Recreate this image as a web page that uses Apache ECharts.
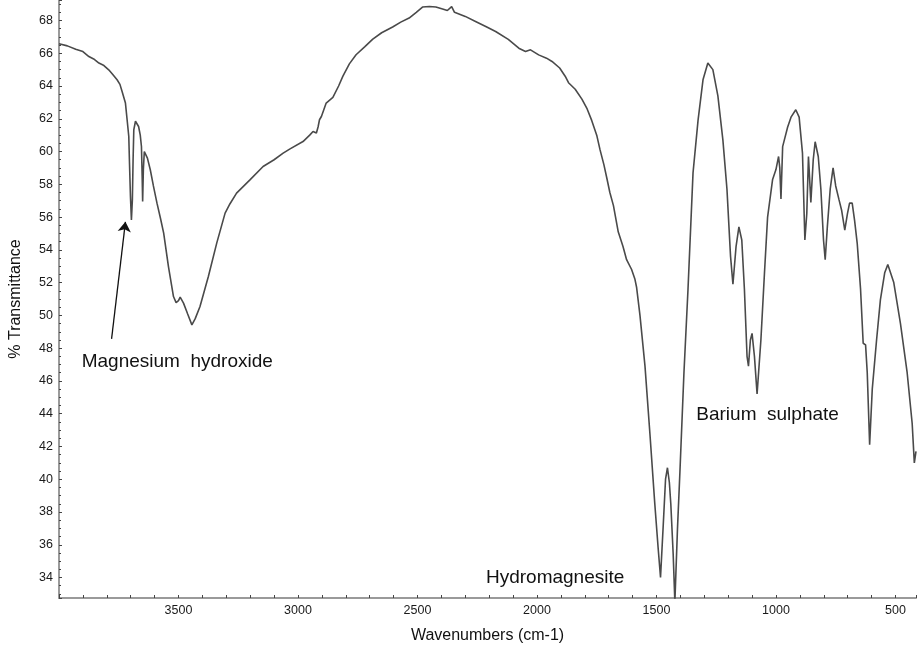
<!DOCTYPE html>
<html><head><meta charset="utf-8">
<script src="https://cdn.jsdelivr.net/npm/echarts@6/dist/echarts.min.js"></script>
<style>html,body{margin:0;padding:0;background:#fff}#c{width:919px;height:652px}</style>
</head><body><div id="c"></div>
<script>
// Spectrum: wavenumber (cm-1) and % transmittance
const wavenumbers = [
 4000,3965,3930,3900,3875,3855,3833,3812,3792,3775,3757,3745,3736,3722,3715,3708,3705,3701,3697,3693,3690,3687,3680,3676,3667,3660,3655,3652,3650,3647,3643,3639,3630,3618,3605,3590,3575,3562,3542,3521,3510,3500,3493,3486,3479,3462,3444,3430,3410,3375,3340,3305,3285,3257,3201,3146,3100,3062,3035,2979,2951,2937,2923,2916,2910,2902,2882,2854,2830,2812,2785,2757,2720,2687,2650,2604,2570,2535,2505,2479,2450,2423,2395,2375,2357,2345,2300,2257,2210,2173,2120,2076,2048,2027,1993,1960,1937,1905,1882,1868,1840,1812,1790,1771,1750,1736,1720,1708,1695,1680,1660,1640,1625,1604,1590,1583,1569,1548,1527,1507,1493,1483,1472,1462,1454,1446,1440,1430,1423,1412,1402,1385,1368,1347,1326,1305,1285,1264,1243,1222,1205,1190,1180,1167,1155,1143,1132,1121,1115,1107,1100,1090,1079,1063,1048,1035,1014,1000,989,984,979,972,951,937,917,903,889,879,871,864,854,844,836,823,812,801,794,785,773,761,750,736,725,712,701,692,681,671,660,646,635,625,618,608,597,579,563,545,532,507,479,451,430,421,414
];
const transmittance = [
 66.58,66.45,66.25,66.1,65.8,65.65,65.4,65.25,64.99,64.7,64.38,64.1,63.67,62.96,61.94,60.92,59.29,57.25,55.83,57.05,59.5,61.33,61.85,61.9,61.53,61.0,60.31,58.5,56.95,58.9,60.0,60.11,59.6,58.89,57.9,56.85,55.9,55.02,52.98,51.15,50.78,50.9,51.11,51.0,50.75,50.1,49.42,49.8,50.54,52.37,54.41,56.24,56.8,57.46,58.27,59.09,59.5,59.9,60.15,60.61,61.0,61.22,61.13,61.5,61.94,62.14,62.96,63.3,64.0,64.6,65.35,65.91,66.4,66.86,67.25,67.6,67.9,68.15,68.5,68.82,68.85,68.82,68.7,68.61,68.85,68.5,68.25,67.94,67.6,67.33,66.85,66.31,66.11,66.21,65.9,65.7,65.5,65.1,64.6,64.2,63.8,63.2,62.6,61.9,61.0,60.1,59.2,58.4,57.5,56.7,55.1,54.2,53.4,52.8,52.2,51.7,50.0,46.9,42.7,38.5,35.8,34.0,37.1,40.0,40.7,39.8,38.5,35.4,32.5,37.0,40.4,46.5,51.6,58.7,61.9,64.4,65.4,65.0,63.4,60.7,57.7,53.6,51.9,54.2,55.4,54.6,51.6,47.5,46.9,48.5,48.9,47.5,45.2,48.5,52.6,56.0,58.3,58.9,59.7,59.0,57.1,60.3,61.5,62.1,62.55,62.1,59.9,54.6,56.2,59.7,56.9,59.5,60.6,59.7,57.7,54.6,53.4,55.4,57.7,59.0,57.9,57.05,56.4,55.2,56.2,56.85,56.85,55.8,54.4,51.6,48.3,48.2,46.5,42.1,45.5,48.5,50.95,52.6,53.1,52.0,49.5,46.5,43.4,41.0,41.7
];
// Annotations (text, position in data units)
const noteTexts = ['Magnesium  hydroxide', 'Hydromagnesite', 'Barium  sulphate'];
const noteWavenumbers = [3505, 1924, 1035];
const noteValues = [47.16, 33.98, 43.93];
// Arrow: from label to the Mg(OH)2 band
const arrowFrom = [3780, 48.57];
const arrowTo = [3722, 55.71];

const chart = echarts.init(document.getElementById('c'), null, {renderer: 'canvas'});
const seriesData = wavenumbers.map((w, i) => [w, transmittance[i]]);
const tickFont = "'Liberation Sans Narrow', 'Liberation Sans', Arial, sans-serif";
const textFont = "'Liberation Sans', Arial, sans-serif";

chart.setOption({
  animation: false,
  backgroundColor: '#ffffff',
  grid: {left: 58, right: 0, top: 0, bottom: 54, containLabel: false},
  xAxis: {
    type: 'value', inverse: true, min: 414, max: 4000, splitNumber: 7,
    name: 'Wavenumbers (cm-1)', nameLocation: 'middle', nameGap: 30,
    nameTextStyle: {fontSize: 16, color: '#111', fontFamily: textFont},
    axisLine: {show: true, onZero: false, lineStyle: {color: '#9a9a9a', width: 2}},
    axisTick: {show: true, inside: true, length: 3, lineStyle: {color: '#444', width: 1}},
    minorTick: {show: true, splitNumber: 5, length: 3, lineStyle: {color: '#444', width: 1}},
    splitLine: {show: false},
    axisLabel: {
      color: '#1a1a1a', fontSize: 12.5, fontFamily: tickFont, margin: 6,
      formatter: v => (v % 500 === 0 && v < 4000) ? String(v) : ''
    }
  },
  yAxis: {
    type: 'value', min: 32.75, max: 69.25, splitNumber: 18,
    name: '% Transmittance', nameLocation: 'middle', nameGap: 35,
    nameTextStyle: {fontSize: 16, color: '#111', fontFamily: textFont},
    axisLine: {show: true, onZero: false, lineStyle: {color: '#9a9a9a', width: 2}},
    axisTick: {show: true, inside: true, length: 3, lineStyle: {color: '#444', width: 1}},
    minorTick: {show: true, splitNumber: 4, length: 2, lineStyle: {color: '#444', width: 1}},
    splitLine: {show: false},
    axisLabel: {
      color: '#1a1a1a', fontSize: 12.5, fontFamily: tickFont, margin: 6,
      formatter: v => (Math.abs(v - Math.round(v)) < 1e-6 && Math.round(v) % 2 === 0) ? String(Math.round(v)) : ''
    }
  },
  series: [{
    type: 'line', data: seriesData, showSymbol: false, symbol: 'none',
    lineStyle: {color: '#4a4a4a', width: 1.6}, clip: true, silent: true,
    markLine: {
      silent: true, symbol: ['none', 'arrow'], symbolSize: 10,
      lineStyle: {color: '#111', width: 1.3, type: 'solid'}, label: {show: false},
      emphasis: {disabled: true},
      data: [[{coord: arrowFrom}, {coord: arrowTo}]]
    }
  }]
});

const graphics = noteTexts.map((t, i) => {
  const p = chart.convertToPixel({gridIndex: 0}, [noteWavenumbers[i], noteValues[i]]);
  return {
    type: 'text', x: p[0], y: p[1], silent: true,
    style: {text: t, fill: '#111', fontSize: 19, fontFamily: textFont, align: 'center', verticalAlign: 'middle'}
  };
});
chart.setOption({graphic: graphics});
</script>
</body></html>
